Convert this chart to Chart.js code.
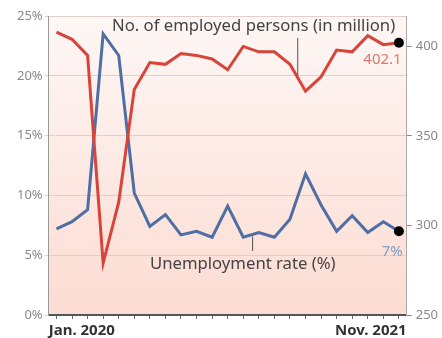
<!DOCTYPE html>
<html>
<head>
<meta charset="utf-8">
<script src="https://cdn.jsdelivr.net/npm/chart.js@4/dist/chart.umd.min.js"></script>
<style>
  html, body { margin: 0; padding: 0; background: #fff; }
  #wrap { width: 442px; height: 338px; }
</style>
</head>
<body>
<div id="wrap"><canvas id="chart" width="442" height="338"></canvas></div>
<script>
// months Jan 2020 .. Nov 2021
const months = ['Jan. 2020', 'Feb. 2020', 'Mar. 2020', 'Apr. 2020', 'May 2020', 'Jun. 2020',
  'Jul. 2020', 'Aug. 2020', 'Sep. 2020', 'Oct. 2020', 'Nov. 2020', 'Dec. 2020',
  'Jan. 2021', 'Feb. 2021', 'Mar. 2021', 'Apr. 2021', 'May 2021', 'Jun. 2021',
  'Jul. 2021', 'Aug. 2021', 'Sep. 2021', 'Oct. 2021', 'Nov. 2021'];

// unemployment rate (%), left axis
const unemployment = [7.2, 7.8, 8.8, 23.5, 21.7, 10.2, 7.4, 8.4, 6.7, 7.0, 6.5, 9.1,
  6.5, 6.9, 6.5, 8.0, 11.8, 9.2, 7.0, 8.3, 6.9, 7.8, 7.0];

// employed persons (million), right axis
const employed = [408, 404, 395, 279, 313, 376, 391, 390, 396, 395, 393, 387,
  400, 397, 397, 390, 375, 383, 398, 397, 406, 401, 402.1];

const leftTicks = [0, 5, 10, 15, 20, 25];
const rightTicks = [250, 300, 350, 400];

const lastIdx = months.length - 1;
const endRadius = months.map((m, i) => i === lastIdx ? 5 : 0);

const bgPlugin = {
  id: 'bg',
  beforeDraw(chart) {
    const { ctx, chartArea: a } = chart;
    const g = ctx.createLinearGradient(0, a.top, 0, a.bottom);
    g.addColorStop(0, '#fef7f5');
    g.addColorStop(1, '#fcdcd2');
    ctx.save();
    ctx.fillStyle = g;
    ctx.fillRect(a.left, a.top, a.right - a.left, a.bottom - a.top);
    ctx.restore();
  }
};

const notesPlugin = {
  id: 'notes',
  afterDraw(chart) {
    const { ctx, chartArea: a, scales } = chart;
    const x = scales.x, yl = scales.y, yr = scales.y2;
    ctx.save();
    // x labels, first and last month only
    ctx.font = 'bold 15px "Noto Sans"';
    ctx.fillStyle = '#333';
    ctx.textBaseline = 'middle';
    ctx.textAlign = 'left';
    ctx.fillText(months[0], a.left, a.bottom + 16);
    ctx.textAlign = 'right';
    ctx.fillText(months[lastIdx], a.right, a.bottom + 16);

    // series titles
    ctx.font = '16.7px "Noto Sans"';
    ctx.fillStyle = '#444';
    ctx.textAlign = 'left';
    ctx.fillText('No. of employed persons (in million)', 112, 26);
    ctx.fillText('Unemployment rate (%)', 150, 264);

    // leader lines
    ctx.strokeStyle = '#555';
    ctx.lineWidth = 1;
    const xe = x.getPixelForValue(15.5);
    ctx.beginPath();
    ctx.moveTo(xe, 38);
    ctx.lineTo(xe, yr.getPixelForValue((employed[15] + employed[16]) / 2) - 2);
    ctx.stroke();
    const xu = x.getPixelForValue(12.6);
    ctx.beginPath();
    ctx.moveTo(xu, yl.getPixelForValue(unemployment[12] + 0.24) + 2);
    ctx.lineTo(xu, 251);
    ctx.stroke();

    // end values
    ctx.font = '15px "Noto Sans"';
    ctx.textAlign = 'right';
    ctx.fillStyle = '#e0786a';
    ctx.fillText(String(employed[lastIdx]), a.right - 5, yr.getPixelForValue(employed[lastIdx]) + 17);
    ctx.fillStyle = '#7f9fc4';
    ctx.fillText(Math.round(unemployment[lastIdx]) + '%', a.right - 4, yl.getPixelForValue(unemployment[lastIdx]) + 20);
    ctx.restore();
  }
};

new Chart(document.getElementById('chart'), {
  type: 'line',
  data: {
    labels: months,
    datasets: [
      {
        label: 'No. of employed persons (in million)',
        data: employed,
        yAxisID: 'y2',
        borderColor: '#d8433a',
        borderWidth: 3,
        pointRadius: endRadius,
        pointBackgroundColor: '#000',
        pointBorderWidth: 0,
        tension: 0
      },
      {
        label: 'Unemployment rate (%)',
        data: unemployment,
        yAxisID: 'y',
        borderColor: '#4e6ea4',
        borderWidth: 3,
        pointRadius: endRadius,
        pointBackgroundColor: '#000',
        pointBorderWidth: 0,
        tension: 0
      }
    ]
  },
  options: {
    responsive: false,
    animation: false,
    layout: { padding: { left: 15, right: 0, top: 16, bottom: 19 } },
    plugins: {
      legend: { display: false },
      tooltip: { enabled: false }
    },
    scales: {
      x: {
        offset: true,
        border: { color: '#555', width: 2 },
        grid: { drawOnChartArea: false, tickLength: 4, color: '#666' },
        ticks: { display: false }
      },
      y: {
        position: 'left',
        min: 0,
        max: 25,
        afterBuildTicks: s => { s.ticks = leftTicks.map(v => ({ value: v })); },
        border: { color: '#999', width: 1 },
        grid: { color: '#e3cfca', tickLength: 4 },
        ticks: {
          color: '#8a8a8a',
          font: { family: 'Noto Sans', size: 13 },
          padding: 2,
          callback: v => v + '%'
        }
      },
      y2: {
        position: 'right',
        min: 250,
        max: 417,
        afterBuildTicks: s => { s.ticks = rightTicks.map(v => ({ value: v })); },
        border: { color: '#aaa', width: 1 },
        grid: { drawOnChartArea: false, tickLength: 5, color: '#888' },
        ticks: {
          color: '#8a8a8a',
          font: { family: 'Noto Sans', size: 13 },
          padding: 4
        }
      }
    }
  },
  plugins: [bgPlugin, notesPlugin]
});
</script>
</body>
</html>
